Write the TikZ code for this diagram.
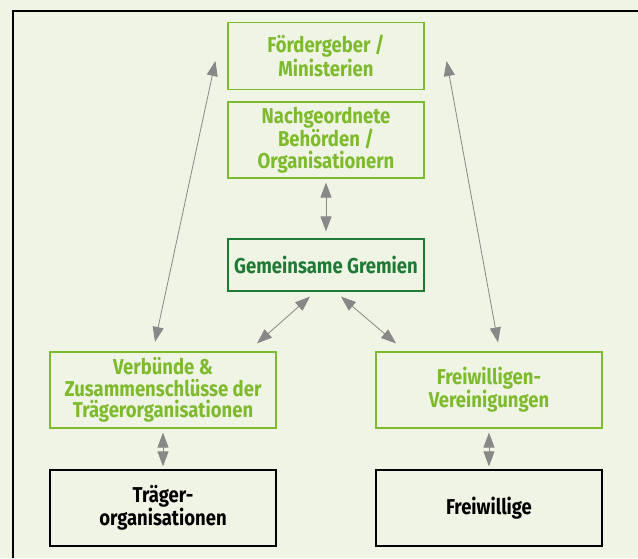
\documentclass[tikz,border=0pt]{standalone}
\usepackage{fontspec}
\setmainfont{Fira Sans}[FakeStretch=0.86]
\usetikzlibrary{arrows.meta}
\definecolor{paper}{HTML}{F0F4E5}
\definecolor{lightgreen}{HTML}{7DBA2C}
\definecolor{darkgreen}{HTML}{1E7A35}
\definecolor{arrowgray}{HTML}{888888}
\tikzset{
  box/.style={draw, line width=1.2pt, align=center, inner sep=0pt,
    font=\fontsize{21.5}{21.5}\selectfont\bfseries},
  govbox/.style={box, draw=lightgreen, text=lightgreen, minimum width=196pt},
  orgbox/.style={box, draw=lightgreen, text=lightgreen, minimum width=226pt, minimum height=76pt},
  basebox/.style={box, draw=black, text=black, minimum width=226pt, minimum height=76pt},
  link/.style={draw=arrowgray, line width=0.8pt,
    {Triangle[length=15pt,width=11pt,fill=arrowgray]}-{Triangle[length=15pt,width=11pt,fill=arrowgray]}}
}
\begin{document}
\begin{tikzpicture}[x=1pt,y=-1pt]
    \useasboundingbox[fill=paper] (0,0) rectangle (638,558);
    \draw[line width=1.2pt] (13,558) -- (13,11) -- (638,11);

    % upper column
    \node[govbox, minimum height=67pt] (foerder) at (326,56) {Fördergeber /\\Ministerien};
    \node[govbox, minimum height=76pt] (nach) at (326,140) {Nachgeordnete\\Behörden /\\Organisationern};
    \node[govbox, minimum height=52pt, draw=darkgreen, text=darkgreen] (grem) at (326,265) {Gemeinsame Gremien};

    % lower rows
    \node[orgbox] (verb) at (163,390) {Verbünde \&\\Zusammenschlüsse der\\Trägerorganisationen};
    \node[orgbox] (frv) at (489,390) {Freiwilligen-\\Vereinigungen};
    \node[basebox] (traeger) at (163,508) {Träger-\\organisationen};
    \node[basebox] (freiw) at (489,508) {Freiwillige};

    % connections
    \draw[link] ([yshift=-4pt]nach.south) -- ([yshift=7pt]grem.north);
    \draw[link] ([xshift=-16pt,yshift=-5pt]grem.south) -- ([xshift=94pt,yshift=8pt]verb.north);
    \draw[link] ([xshift=15pt,yshift=-5pt]grem.south) -- ([xshift=-93pt,yshift=8pt]frv.north);
    \draw[link] ([xshift=-12pt,yshift=-5pt]foerder.west) -- ([xshift=-8pt,yshift=9.5pt]verb.north);
    \draw[link] ([xshift=22pt,yshift=-5pt]foerder.east) -- ([xshift=9pt,yshift=9pt]frv.north);
    \draw[link] ([yshift=-4pt]verb.south) -- ([yshift=3pt]traeger.north);
    \draw[link] ([yshift=-4pt]frv.south) -- ([yshift=3pt]freiw.north);
\end{tikzpicture}
\end{document}
